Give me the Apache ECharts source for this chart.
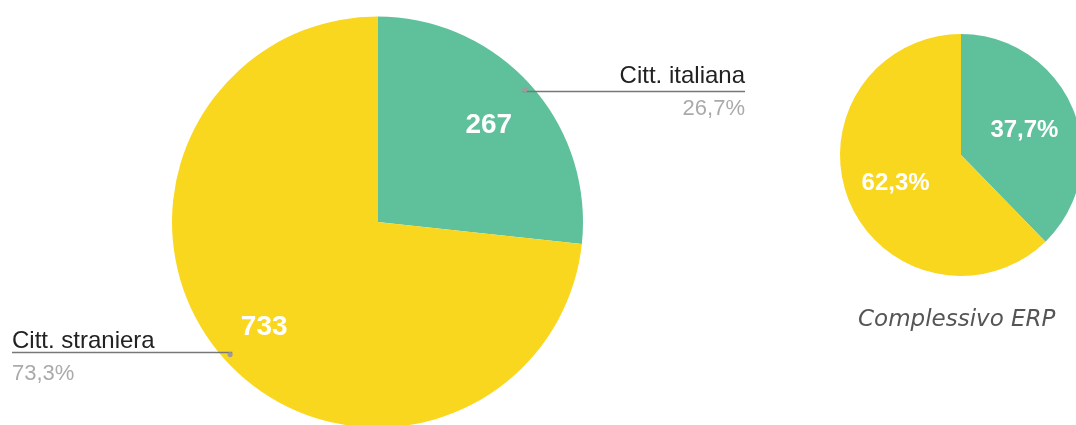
<!DOCTYPE html>
<html><head><meta charset="utf-8">
<script src="https://cdn.jsdelivr.net/npm/echarts@6/dist/echarts.min.js"></script>
<style>html,body{margin:0;padding:0;background:#fff}#c{width:1076px;height:425px}</style>
</head><body><div id="c"></div>
<script>
const categories = ['Citt. italiana', 'Citt. straniera'];
const mainValues = [267, 733];
const totalPercents = [37.7, 62.3];
const totalTitle = 'Complessivo ERP';
const colors = ['#5fc09c', '#f9d71f'];

const BIG_R = 205.5;
const SMALL_R = 121;
const bigBox = { left: 12, top: 0, width: 733, height: 425 };
const bigCenter = [365.5, 222];
const smallCenter = [961, 155];
const LEADER_R = BIG_R * 0.95;

function pct(p) { return p.toFixed(1).replace('.', ',') + '%'; }
function mk(vals) { return vals.map((v, i) => ({ name: categories[i], value: v })); }
const clear = { color: 'rgba(255,255,255,0)', borderWidth: 0 };
const font = '"Liberation Sans", Arial, sans-serif';

const chart = echarts.init(document.getElementById('c'), null, { renderer: 'canvas' });
chart.setOption({
  animation: false,
  color: colors,
  title: {
    text: totalTitle, left: 853, top: 304,
    textStyle: { fontFamily: '"DejaVu Sans", sans-serif', fontStyle: 'italic', fontWeight: 'normal', fontSize: 23, color: '#555' }
  },
  series: [
    { // big pie
      type: 'pie', z: 2, ...bigBox, center: bigCenter, radius: BIG_R, silent: true,
      startAngle: 90, clockwise: true, itemStyle: { borderWidth: 0 },
      label: { show: false }, labelLine: { show: false }, emphasis: { disabled: true },
      data: mk(mainValues)
    },
    { // outside labels with leader lines
      type: 'pie', z: 6, ...bigBox, center: bigCenter, radius: LEADER_R, silent: true,
      itemStyle: clear, emphasis: { disabled: true }, avoidLabelOverlap: false,
      label: {
        position: 'outside', alignTo: 'edge', edgeDistance: 0, fontFamily: font,
        formatter: p => '{n|' + p.name + '}\n{p|' + pct(p.percent) + '}',
        rich: {
          n: { fontSize: 24, color: '#222', lineHeight: 32, fontFamily: font },
          p: { fontSize: 22, color: '#aaa', lineHeight: 32, fontFamily: font }
        }
      },
      labelLine: { show: true, length: 3, length2: 10, lineStyle: { color: '#777', width: 1.6, opacity: 1 } },
      labelLayout: function (params) {
        const pts = params.labelLinePoints;
        const r = params.labelRect;
        if (!pts) return {};
        const cx = bigBox.left + bigCenter[0], cy = bigBox.top + bigCenter[1];
        const dx = pts[0][0] - cx, dy = pts[0][1] - cy;
        const len = Math.sqrt(dx * dx + dy * dy) || 1;
        const p0 = [cx + dx / len * LEADER_R, cy + dy / len * LEADER_R];
        const rightSide = r.x + r.width / 2 > p0[0];
        const endX = rightSide ? r.x + r.width : r.x;
        return { dy: 3, labelLinePoints: [p0, [endX, p0[1]]] };
      },
      data: mk(mainValues)
    },
    { // dots at leader line start
      type: 'pie', z: 7, ...bigBox, center: bigCenter, radius: [BIG_R * 0.93, BIG_R * 0.97], silent: true,
      itemStyle: clear, emphasis: { disabled: true }, avoidLabelOverlap: false,
      label: { position: 'inside', formatter: '●', fontSize: 12, color: '#a09a9c' },
      labelLine: { show: false },
      data: mk(mainValues)
    },
    { // value labels
      type: 'pie', z: 7, ...bigBox, center: bigCenter, radius: [BIG_R * 0.58, BIG_R * 0.86], silent: true,
      itemStyle: clear, emphasis: { disabled: true }, avoidLabelOverlap: false,
      label: { position: 'inside', offset: [-1, 4], formatter: p => String(p.value), fontSize: 28, fontWeight: 'bold', color: '#fff', fontFamily: font },
      labelLine: { show: false },
      data: mk(mainValues)
    },
    { // small pie
      type: 'pie', center: smallCenter, radius: SMALL_R, silent: true,
      itemStyle: { borderWidth: 0 }, emphasis: { disabled: true },
      label: { show: false }, labelLine: { show: false },
      data: mk(totalPercents)
    },
    { // small pie labels
      type: 'pie', z: 7, center: smallCenter, radius: [SMALL_R * 0.3, SMALL_R * 0.8], silent: true,
      itemStyle: clear, emphasis: { disabled: true }, avoidLabelOverlap: false,
      label: { position: 'inside', offset: [-1, 2], formatter: p => pct(p.value), fontSize: 24, fontWeight: 'bold', color: '#fff', fontFamily: font },
      labelLine: { show: false },
      data: mk(totalPercents)
    }
  ]
});
</script></body></html>
